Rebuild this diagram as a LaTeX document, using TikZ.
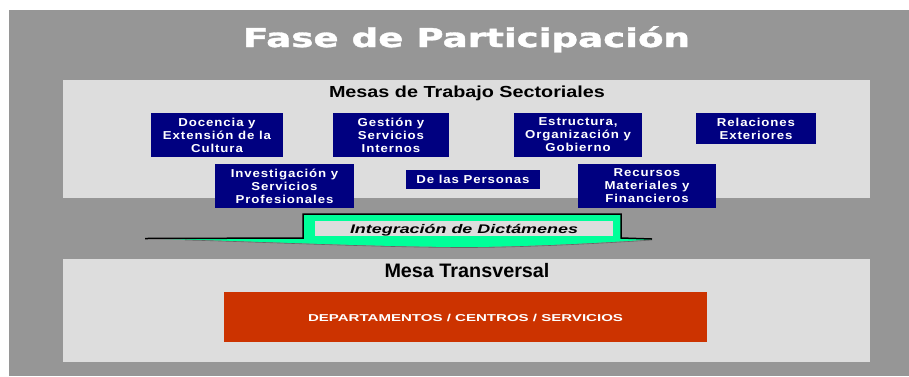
\documentclass[tikz,border=0pt]{standalone}
\usepackage{fontspec}
\setmainfont{Liberation Sans}
\newfontfamily\titlefont[FakeBold=1.2]{DejaVu Sans}
\newfontfamily\boxfont[FakeStretch=1.15,LetterSpace=8]{Liberation Sans}
\definecolor{bggray}{HTML}{969696}
\definecolor{panel}{HTML}{DDDDDD}
\definecolor{navy}{HTML}{000080}
\definecolor{ribbon}{HTML}{00FF99}
\definecolor{redbox}{HTML}{CC3300}
\newcommand\fitw[2]{\setbox0=\hbox{#2}\pgfmathsetmacro\fitratio{#1/\wd0}\scalebox{\fitratio}[1]{\box0}}
\tikzset{
  mesa/.style={fill=navy, inner sep=0pt, text=white, align=center,
    font=\boxfont\bfseries\fontsize{11.5}{13}\selectfont},
  heading/.style={anchor=base, inner sep=0pt},
}
\begin{document}
\begin{tikzpicture}[x=1pt,y=-1pt]
\useasboundingbox (0,0) rectangle (909,376);
\fill[white] (0,0) rectangle (909,376);
\fill[bggray] (9,10) rectangle (909,376);
\node[heading, text=white, font=\titlefont\bfseries\fontsize{26}{30}\selectfont] (title) at (466.5,47) {\fitw{447}{Fase de Participación}};
% upper panel
\fill[panel] (63,80) rectangle (870,198);
\node[heading, font=\bfseries\fontsize{16}{18}\selectfont] (mts) at (467,97.5) {\fitw{276}{Mesas de Trabajo Sectoriales}};
\node[mesa, minimum width=132pt, minimum height=44pt] (doc) at (217,135) {Docencia y\\Extensión de la\\Cultura};
\node[mesa, minimum width=116pt, minimum height=44pt] (ges) at (391,135) {Gestión y\\Servicios\\Internos};
\node[mesa, minimum width=128pt, minimum height=44pt] (est) at (578,135) {Estructura,\\Organización y\\Gobierno};
\node[mesa, minimum width=120pt, minimum height=31pt] (rel) at (756,128.5) {Relaciones\\Exteriores};
\node[mesa, minimum width=139pt, minimum height=44pt] (inv) at (284.5,186) {Investigación y\\Servicios\\Profesionales};
\node[mesa, minimum width=134pt, minimum height=19pt] (per) at (473,179.5) {De las Personas};
\node[mesa, minimum width=138pt, minimum height=44pt] (rec) at (647,186) {Recursos\\Materiales y\\Financieros};
% ribbon
\fill[ribbon] (145,238.5) -- (303,238) -- (303,214) -- (621,214) -- (621,238) -- (652,239.5)
  .. controls (600,243) and (520,247) .. (466,247)
  .. controls (380,247) and (250,241) .. (145,238.5) -- cycle;
\draw[black!60, line width=0.6pt] (652,240) .. controls (600,243.5) and (520,247.5) .. (466,247.5)
  .. controls (380,247.5) and (250,241.5) .. (185,240);
\draw[black, line width=1.5pt] (145,238.5) -- (303,238) -- (303,214) -- (621,214) -- (621,238) -- (652,239);
\fill[panel] (315,221) rectangle (613,236);
\node[heading, font=\bfseries\itshape\fontsize{12.5}{15}\selectfont] (int) at (464,233.5) {\fitw{228}{Integración de Dictámenes}};
% lower panel
\fill[panel] (63,259) rectangle (870,362);
\node[heading, font=\bfseries\fontsize{19.5}{22}\selectfont] (mt) at (467,277) {\fitw{165}{Mesa Transversal}};
\fill[redbox] (224,292) rectangle (707,342);
\node[heading, text=white, font=\bfseries\fontsize{10}{12}\selectfont] (dep) at (465.5,321) {\fitw{315}{DEPARTAMENTOS / CENTROS / SERVICIOS}};
\end{tikzpicture}
\end{document}
